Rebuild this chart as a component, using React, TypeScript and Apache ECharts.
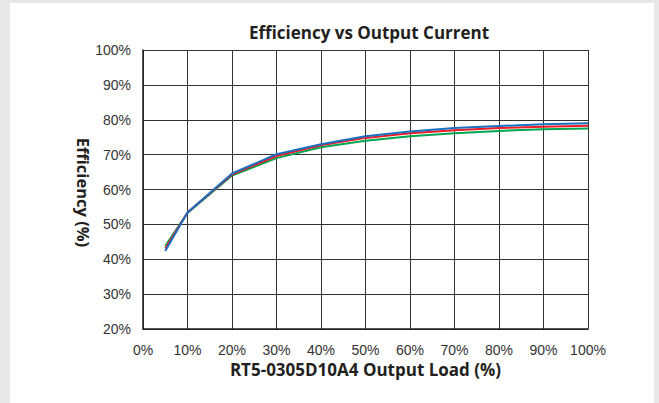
import React, { useEffect, useRef } from "react";
import * as echarts from "echarts";

const loads = [5, 10, 20, 30, 40, 50, 60, 70, 80, 90, 100];
const greenEff = [43.8, 53.3, 64.0, 69.0, 72.1, 74.0, 75.3, 76.1, 76.8, 77.3, 77.5];
const redEff = [43.1, 53.4, 64.3, 69.6, 72.7, 74.8, 76.1, 77.0, 77.6, 78.0, 78.3];
const blueEff = [42.4, 53.4, 64.6, 70.1, 73.0, 75.3, 76.6, 77.6, 78.2, 78.7, 79.0];

const title = "Efficiency vs Output Current";
const xName = "RT5-0305D10A4 Output Load (%)";
const yName = "Efficiency (%)";

const pair = (ys: number[]) => loads.map((x, i) => [x, ys[i]]);

export default function App() {
  const ref = useRef<HTMLDivElement>(null);
  useEffect(() => {
    if (!ref.current) return;
    const chart = echarts.init(ref.current, null, { renderer: "svg" });
    const line = (name: string, data: number[], color: string, z: number) => ({
      name,
      type: "line",
      data: pair(data),
      showSymbol: false,
      symbol: "none",
      z,
      lineStyle: { color, width: 2 },
    });
    const boldText = (size: number) => ({
      fontFamily: "Open Sans",
      fontWeight: "bold",
      fontSize: size,
      color: "#231f20",
    });
    chart.setOption({
      animation: false,
      title: {
        text: title,
        left: 364,
        top: 19,
        textAlign: "center",
        textStyle: boldText(17),
      },
      grid: { left: 143, top: 50, right: 71, bottom: 74, containLabel: false },
      xAxis: {
        type: "value",
        min: 0,
        max: 100,
        interval: 10,
        name: xName,
        nameLocation: "middle",
        nameGap: 32,
        nameMoveOverlap: false,
        nameTextStyle: boldText(17),
        axisLine: { show: true, lineStyle: { color: "#231f20", width: 1.5 } },
        axisTick: { show: false },
        axisLabel: {
          formatter: "{value}%",
          fontFamily: "Liberation Sans",
          fontSize: 14,
          color: "#333",
          margin: 14,
        },
        splitLine: { show: true, lineStyle: { color: "#333", width: 1 } },
      },
      yAxis: {
        type: "value",
        min: 20,
        max: 100,
        interval: 10,
        name: yName,
        nameLocation: "middle",
        nameRotate: -90,
        nameGap: 51,
        nameMoveOverlap: false,
        nameTextStyle: { ...boldText(16.5), padding: [0, 0, 0, 6] },
        axisLine: { show: true, lineStyle: { color: "#231f20", width: 1.5 } },
        axisTick: { show: false },
        axisLabel: {
          formatter: "{value}%",
          fontFamily: "Liberation Sans",
          fontSize: 14,
          color: "#333",
          margin: 12,
        },
        splitLine: { show: true, lineStyle: { color: "#333", width: 1 } },
      },
      series: [
        line("Green", greenEff, "#00a651", 3),
        line("Red", redEff, "#ed1c24", 4),
        line("Blue", blueEff, "#1a6fc0", 5),
      ],
    });
    return () => chart.dispose();
  }, []);
  return (
    <div style={{ position: "fixed", left: 0, top: 0, width: 659, height: 403, background: "#e6e7e8" }}>
      <div style={{ position: "absolute", left: 10, top: 3, width: 644, height: 400, background: "#ffffff" }} />
      <div ref={ref} style={{ position: "absolute", left: 0, top: 0, width: 659, height: 403 }} />
    </div>
  );
}
